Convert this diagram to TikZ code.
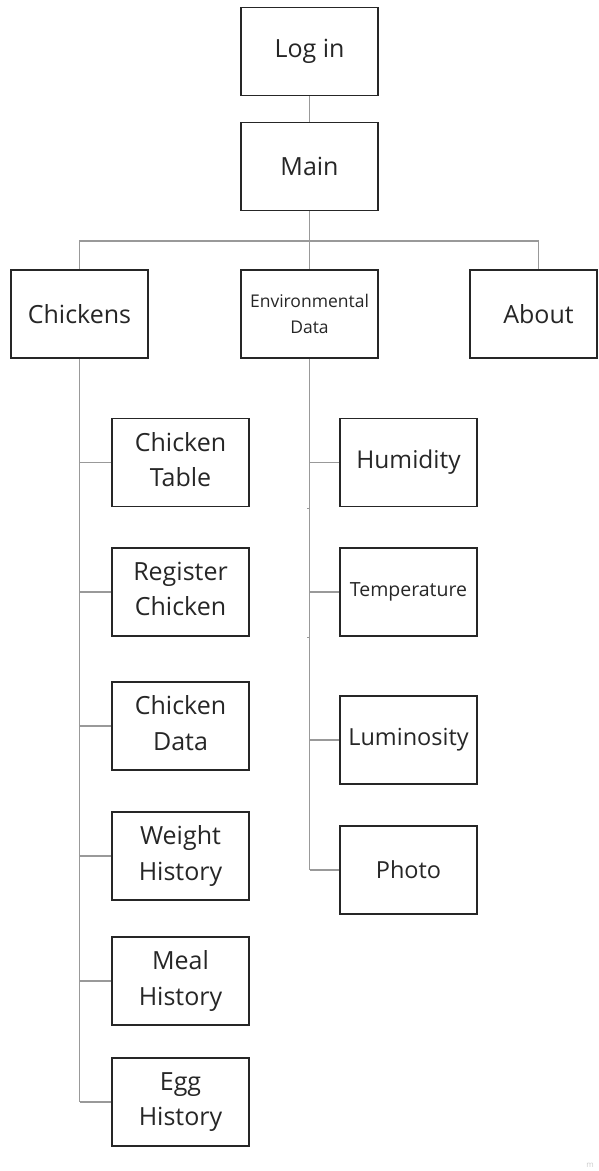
\documentclass[tikz,border=0pt]{standalone}
\usepackage{fontspec}
\setmainfont{Open Sans}
\begin{document}
\begin{tikzpicture}[x=1pt,y=-1pt,
  box/.style={draw=black!85, line width=1.9pt, minimum width=137pt, minimum height=88pt,
    inner sep=0pt, align=center, text=black!85, font=\fontsize{25}{35.5}\selectfont},
  twoline/.style={box, text depth=6pt},
  link/.style={draw=black!40, line width=1.3pt},
  tick/.style={draw=black!40, line width=1pt}]
\useasboundingbox (0,0) rectangle (598,1171);
\clip (0,0) rectangle (598,1171);

% top level
\node[box] (login) at (309.5,51.5) {Log in};
\node[box] (main) at (309.5,166.5) {Main};
\node[box] (chickens) at (79.5,314) {Chickens};
\node[box, font=\fontsize{17.5}{25.5}\selectfont] (env) at (309.5,314) {Environmental\\Data};
\node[box, draw=none] (about) at (538.5,314) {About};
\draw[draw=black!85, line width=1.9pt] (470,270) rectangle (597,358);

% chickens pages
\node[twoline] (ctable) at (180.5,462.5) {Chicken\\Table};
\node[twoline] (creg) at (180.5,592) {Register\\Chicken};
\node[twoline] (cdata) at (180.5,726) {Chicken\\Data};
\node[twoline] (whist) at (180.5,856) {Weight\\History};
\node[twoline] (mhist) at (180.5,981) {Meal\\History};
\node[twoline] (ehist) at (180.5,1102) {Egg\\History};

% environmental pages
\node[box, font=\fontsize{24.5}{35}\selectfont] (hum) at (408.5,462.5) {Humidity};
\node[box, font=\fontsize{19.5}{35}\selectfont] (temp) at (408.5,592) {Temperature};
\node[box, font=\fontsize{23.5}{35}\selectfont] (lum) at (408.5,740) {Luminosity};
\node[box, font=\fontsize{23.5}{35}\selectfont] (photo) at (408.5,870) {Photo};

% connectors
\coordinate (bar) at (309.5,241);
\draw[link] (login) -- (main);
\draw[link] (main) -- (bar);
\draw[link] (bar) -| (chickens);
\draw[link] (bar) -| (about);
\draw[link] (bar) -- (env);

\draw[link] (chickens.south) -- (chickens.south |- ehist.west);
\foreach \n in {ctable,creg,cdata,whist,mhist,ehist}
  \draw[link] (chickens.south |- \n.west) -- (\n.west);

\draw[link] (env.south) -- (env.south |- photo.west);
\foreach \n in {hum,temp,lum,photo}
  \draw[link] (env.south |- \n.west) -- (\n.west);

% small stubs on the environmental trunk
\coordinate (t1) at (309.5,508);
\coordinate (t2) at (309.5,637);
\draw[tick] (t1) -- ++(-3,0);
\draw[tick] (t2) -- ++(-3,0);

\node[text=black!20, font=\fontsize{8}{8}\selectfont, inner sep=0pt] (mark) at (590,1165) {m};
\end{tikzpicture}
\end{document}
